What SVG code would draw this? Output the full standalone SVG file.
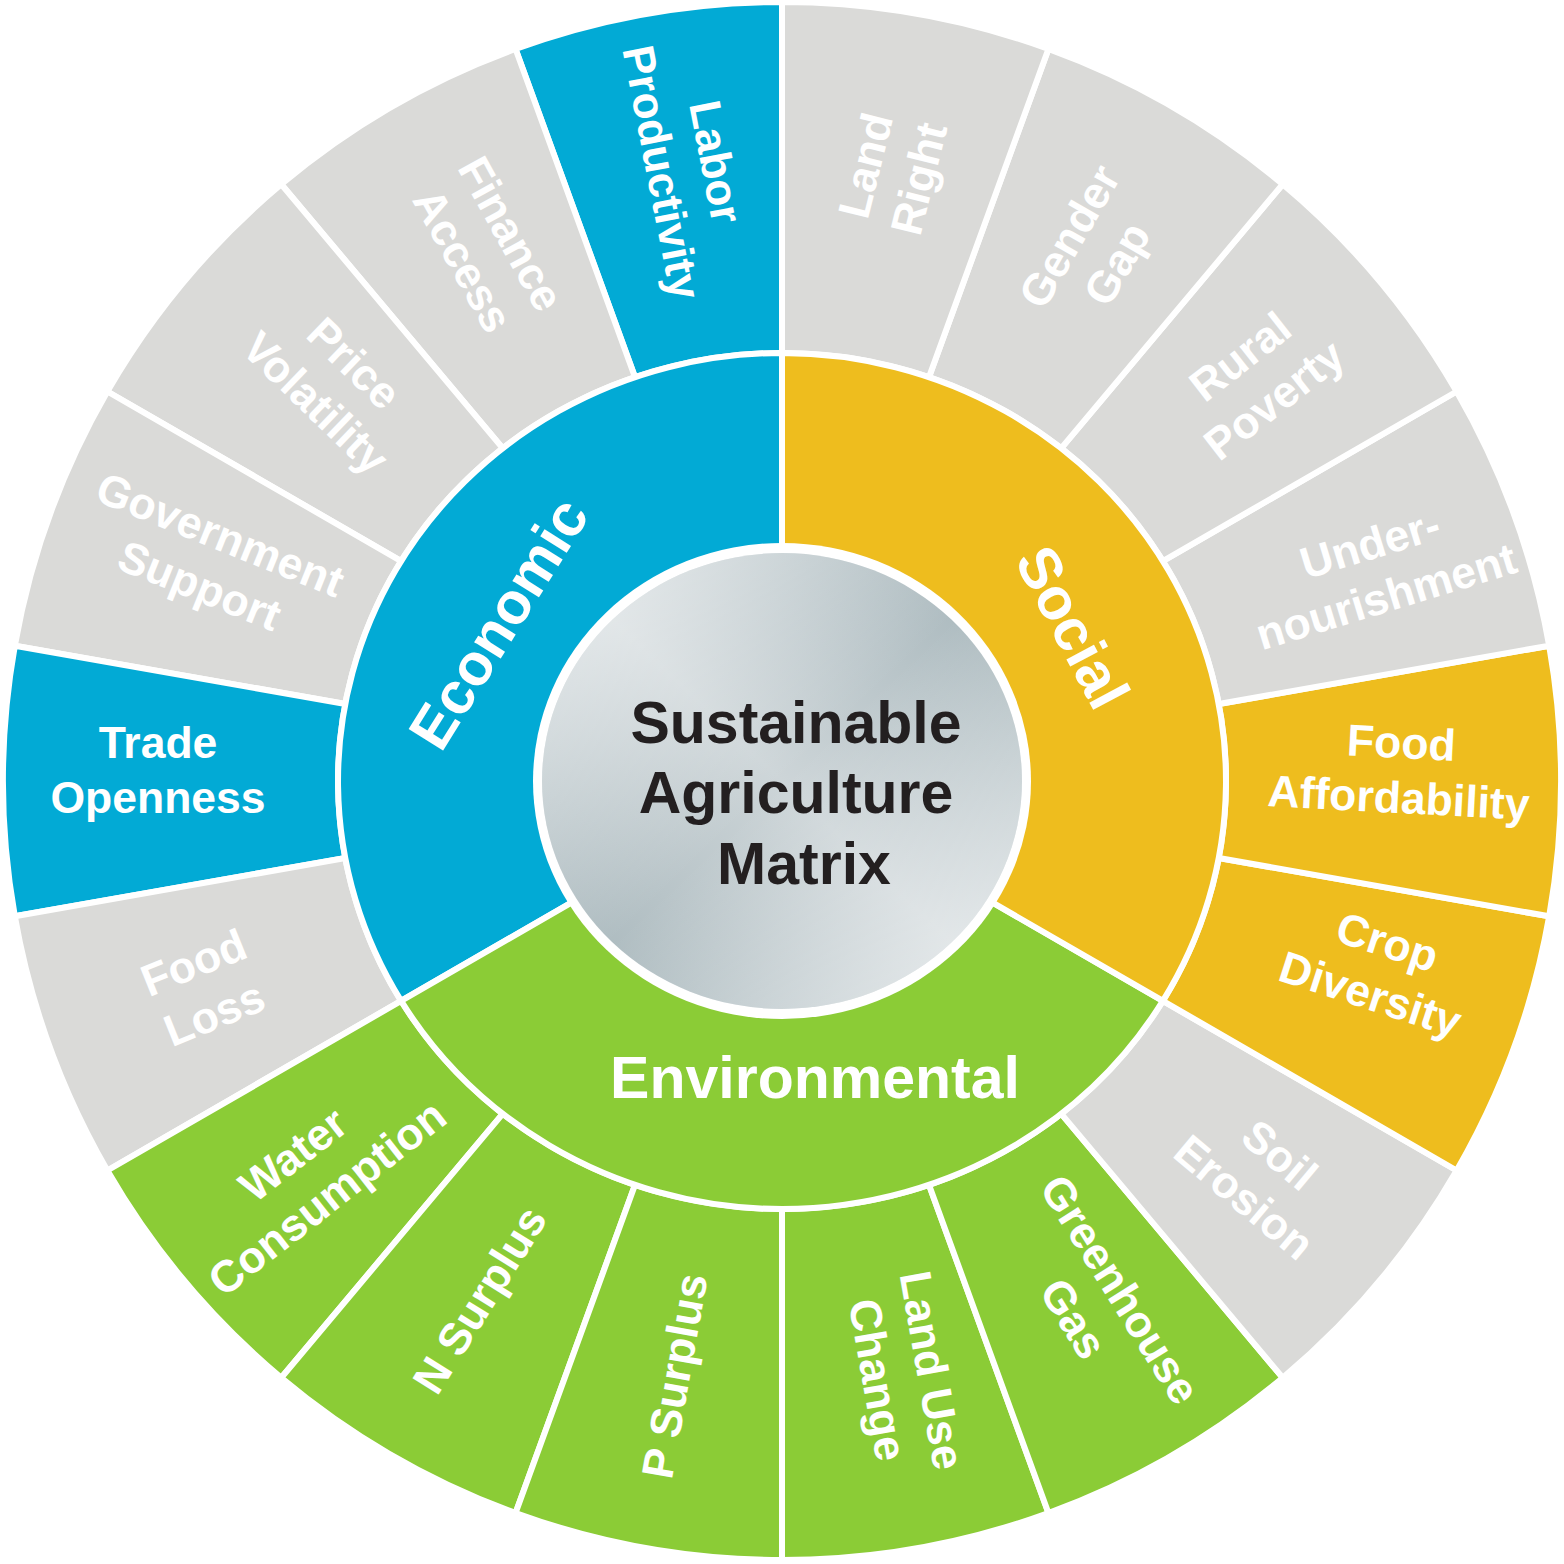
<svg xmlns="http://www.w3.org/2000/svg" width="1564" height="1564" viewBox="0 0 1564 1564">
<style>
.seg{stroke:#fff;stroke-width:6;stroke-linejoin:miter}
.blue{fill:#02aad5}
.yellow{fill:#eebd1e}
.green{fill:#8bcc36}
.gray{fill:#dadad8}
.lbl{font-family:"Liberation Sans",Arial,Helvetica,sans-serif;font-weight:bold;font-size:44.5px;fill:#fff;text-anchor:middle}
.cat{font-family:"Liberation Sans",Arial,Helvetica,sans-serif;font-weight:bold;font-size:59px;fill:#fff;text-anchor:middle}
.title{font-family:"Liberation Sans",Arial,Helvetica,sans-serif;font-weight:bold;font-size:59px;fill:#231f20;text-anchor:middle}
</style>
<defs>
<linearGradient id="silverA" x1="1" y1="0" x2="0" y2="1">
<stop offset="0" stop-color="#a3b3b8"/>
<stop offset="0.5" stop-color="#cdd5d8"/>
<stop offset="1" stop-color="#a3b3b8"/>
</linearGradient>
<linearGradient id="silverB" x1="0" y1="0" x2="1" y2="1">
<stop offset="0" stop-color="#ffffff" stop-opacity="0.6"/>
<stop offset="0.5" stop-color="#ffffff" stop-opacity="0"/>
<stop offset="1" stop-color="#ffffff" stop-opacity="0.6"/>
</linearGradient>
</defs>
<rect width="1564" height="1564" fill="#fff"/>

<!-- Economic outer segments -->
<g id="labor-productivity">
<path class="seg blue" d="M782 781L782 2A779 779 0 0 0 515.57 48.98Z"/>
<text class="lbl" transform="translate(689 167) rotate(79)"><tspan x="0" y="-12">Labor</tspan><tspan x="0" y="43">Productivity</tspan></text>
</g>
<g id="finance-access">
<path class="seg gray" d="M782 781L515.57 48.98A779 779 0 0 0 281.27 184.25Z"/>
<text class="lbl" transform="translate(487 247) rotate(61)"><tspan x="0" y="-12">Finance</tspan><tspan x="0" y="43">Access</tspan></text>
</g>
<g id="price-volatility">
<path class="seg gray" d="M782 781L281.27 184.25A779 779 0 0 0 107.36 391.5Z"/>
<text class="lbl" transform="translate(335 383) rotate(44)"><tspan x="0" y="-12">Price</tspan><tspan x="0" y="43">Volatility</tspan></text>
</g>
<g id="government-support">
<path class="seg gray" d="M782 781L107.36 391.5A779 779 0 0 0 14.83 645.73Z"/>
<text class="lbl" transform="translate(210 560) rotate(22)"><tspan x="0" y="-12">Government</tspan><tspan x="0" y="43">Support</tspan></text>
</g>
<g id="trade-openness">
<path class="seg blue" d="M782 781L14.83 645.73A779 779 0 0 0 14.83 916.27Z"/>
<text class="lbl" transform="translate(158 770)"><tspan x="0" y="-12">Trade</tspan><tspan x="0" y="43">Openness</tspan></text>
</g>
<g id="food-loss">
<path class="seg gray" d="M782 781L14.83 916.27A779 779 0 0 0 107.36 1170.5Z"/>
<text class="lbl" transform="translate(204 988) rotate(-22)"><tspan x="0" y="-12">Food</tspan><tspan x="0" y="43">Loss</tspan></text>
</g>

<!-- Environmental outer segments -->
<g id="water-consumption">
<path class="seg green" d="M782 781L107.36 1170.5A779 779 0 0 0 281.27 1377.75Z"/>
<text class="lbl" transform="translate(310 1176) rotate(-38)"><tspan x="0" y="-12">Water</tspan><tspan x="0" y="43">Consumption</tspan></text>
</g>
<g id="n-surplus">
<path class="seg green" d="M782 781L281.27 1377.75A779 779 0 0 0 515.57 1513.02Z"/>
<text class="lbl" transform="translate(480 1300) rotate(-58)"><tspan x="0" y="15">N Surplus</tspan></text>
</g>
<g id="p-surplus">
<path class="seg green" d="M782 781L515.57 1513.02A779 779 0 0 0 782 1560Z"/>
<text class="lbl" transform="translate(675 1376) rotate(-80)"><tspan x="0" y="15">P Surplus</tspan></text>
</g>
<g id="land-use-change">
<path class="seg green" d="M782 781L782 1560A779 779 0 0 0 1048.43 1513.02Z"/>
<text class="lbl" transform="translate(905 1375) rotate(80)"><tspan x="0" y="-12">Land Use</tspan><tspan x="0" y="43">Change</tspan></text>
</g>
<g id="greenhouse-gas">
<path class="seg green" d="M782 781L1048.43 1513.02A779 779 0 0 0 1282.73 1377.75Z"/>
<text class="lbl" transform="translate(1097 1304) rotate(58)"><tspan x="0" y="-12">Greenhouse</tspan><tspan x="0" y="43">Gas</tspan></text>
</g>
<g id="soil-erosion">
<path class="seg gray" d="M782 781L1282.73 1377.75A779 779 0 0 0 1456.64 1170.5Z"/>
<text class="lbl" transform="translate(1262 1176) rotate(40)"><tspan x="0" y="-12">Soil</tspan><tspan x="0" y="43">Erosion</tspan></text>
</g>

<!-- Social outer segments -->
<g id="crop-diversity">
<path class="seg yellow" d="M782 781L1456.64 1170.5A779 779 0 0 0 1549.17 916.27Z"/>
<text class="lbl" transform="translate(1379 968) rotate(18)"><tspan x="0" y="-12">Crop</tspan><tspan x="0" y="43">Diversity</tspan></text>
</g>
<g id="food-affordability">
<path class="seg yellow" d="M782 781L1549.17 916.27A779 779 0 0 0 1549.17 645.73Z"/>
<text class="lbl" transform="translate(1400 770) rotate(3)"><tspan x="0" y="-12">Food</tspan><tspan x="0" y="43">Affordability</tspan></text>
</g>
<g id="undernourishment">
<path class="seg gray" d="M782 781L1549.17 645.73A779 779 0 0 0 1456.64 391.5Z"/>
<text class="lbl" transform="translate(1378 570) rotate(-17)"><tspan x="0" y="-12">Under-</tspan><tspan x="0" y="43">nourishment</tspan></text>
</g>
<g id="rural-poverty">
<path class="seg gray" d="M782 781L1456.64 391.5A779 779 0 0 0 1282.73 184.25Z"/>
<text class="lbl" transform="translate(1257 378) rotate(-38)"><tspan x="0" y="-12">Rural</tspan><tspan x="0" y="43">Poverty</tspan></text>
</g>
<g id="gender-gap">
<path class="seg gray" d="M782 781L1282.73 184.25A779 779 0 0 0 1048.43 48.98Z"/>
<text class="lbl" transform="translate(1093 250) rotate(-60)"><tspan x="0" y="-12">Gender</tspan><tspan x="0" y="43">Gap</tspan></text>
</g>
<g id="land-right">
<path class="seg gray" d="M782 781L1048.43 48.98A779 779 0 0 0 782 2Z"/>
<text class="lbl" transform="translate(892 172) rotate(-76)"><tspan x="0" y="-12">Land</tspan><tspan x="0" y="43">Right</tspan></text>
</g>

<!-- gap between outer ring and category ring -->
<ellipse cx="782" cy="781" rx="447" ry="431" fill="#fff"/>

<!-- Category ring -->
<g id="economic">
<path class="seg blue" d="M782 781L782 353A444 428 0 0 0 401.1 1000.9Z"/>
<text class="cat" transform="translate(498 623) rotate(-58)" y="21">Economic</text>
</g>
<g id="environmental">
<path class="seg green" d="M782 781L401.1 1000.9A444 428 0 0 0 1162.9 1000.9Z"/>
<text class="cat" transform="translate(815 1077)" y="21">Environmental</text>
</g>
<g id="social">
<path class="seg yellow" d="M782 781L1162.9 1000.9A444 428 0 0 0 782 353Z"/>
<text class="cat" transform="translate(1073 627) rotate(62)" y="21">Social</text>
</g>

<!-- Center -->
<g id="center">
<ellipse cx="782" cy="781" rx="249" ry="238" fill="#fff"/>
<ellipse cx="782" cy="781" rx="240" ry="228" fill="url(#silverA)"/>
<ellipse cx="782" cy="781" rx="240" ry="228" fill="url(#silverB)"/>
<text class="title"><tspan x="796" y="743">Sustainable</tspan><tspan x="796" y="813">Agriculture</tspan><tspan x="804" y="884">Matrix</tspan></text>
</g>
</svg>
